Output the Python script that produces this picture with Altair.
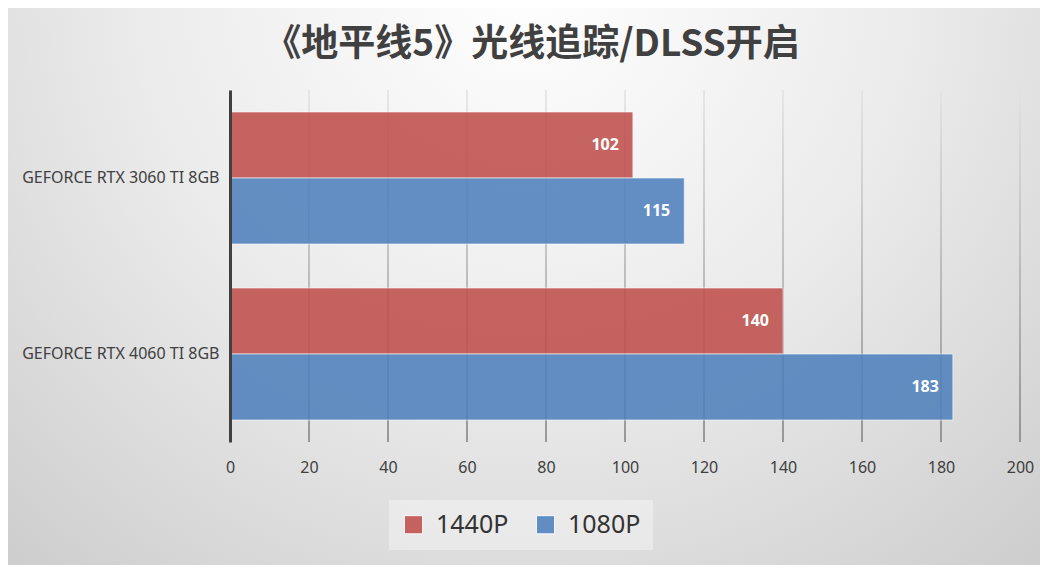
import altair as alt
import pandas as pd

gpus = ["GEFORCE RTX 3060 TI 8GB", "GEFORCE RTX 4060 TI 8GB"]
series = ["1440P", "1080P"]
fps_1440 = [102, 140]
fps_1080 = [115, 183]
x_ticks = [0, 20, 40, 60, 80, 100, 120, 140, 160, 180, 200]
colors = ["#C0504D", "#4F81BD"]
title = "《地平线5》光线追踪/DLSS开启"

rows = []
for g, a, b in zip(gpus, fps_1440, fps_1080):
    rows.append({"gpu": g, "res": series[0], "fps": a})
    rows.append({"gpu": g, "res": series[1], "fps": b})
df = pd.DataFrame(rows)
grid_df = pd.DataFrame({"v": x_ticks})

W, H = 790, 352
xscale = alt.Scale(domain=[0, 200], padding=0, nice=False)
xaxis = alt.Axis(title=None, values=x_ticks, grid=False, domain=False, ticks=False,
                 labelPadding=17, labelFontSize=16, labelFont="Noto Sans",
                 labelColor="#404040", labelFlush=False, labelBound=False,
                 labelOverlap=False, zindex=1)

bg = alt.Chart(alt.Data(values=[{"a": 1}])).mark_rect(
    fill={
        "gradient": "radial",
        "x1": 0.5, "y1": 0.2, "r1": 0,
        "x2": 0.5, "y2": 0.2, "r2": 0.85,
        "stops": [
            {"offset": 0, "color": "#ffffff"},
            {"offset": 0.45, "color": "#ebebeb"},
            {"offset": 1, "color": "#c6c6c6"},
        ],
    }
).encode(
    x=alt.value(-222), x2=alt.value(W + 20),
    y=alt.value(-82), y2=alt.value(H + 123),
)

grid = alt.Chart(grid_df).mark_bar(
    orient="vertical", width=1.5,
    fill={
        "gradient": "linear", "x1": 0, "y1": 0, "x2": 0, "y2": 1,
        "stops": [
            {"offset": 0, "color": "#e2e2e2"},
            {"offset": 1, "color": "#7e7e7e"},
        ],
    },
).encode(
    x=alt.X("v:Q", scale=xscale, axis=xaxis),
    y=alt.value(0), y2=alt.value(H),
)

y_enc = alt.Y("gpu:N", sort=gpus, scale=alt.Scale(paddingInner=0.25, paddingOuter=0.125),
              axis=alt.Axis(title=None, domain=True, domainColor="#404040", domainWidth=3,
                            ticks=False, labelPadding=11, labelFontSize=16, labelLimit=0,
                            labelFont="Noto Sans", labelColor="#404040", grid=False,
                            zindex=1))
yoff = alt.YOffset("res:N", sort=series, scale=alt.Scale(paddingInner=0, paddingOuter=0))

bars = alt.Chart(df).mark_bar(
    opacity=0.88, stroke="#ffffff", strokeWidth=1, strokeOpacity=0.6
).encode(
    x=alt.X("fps:Q", scale=xscale, axis=xaxis),
    y=y_enc,
    yOffset=yoff,
    color=alt.Color("res:N", sort=series, scale=alt.Scale(domain=series, range=colors),
                    legend=alt.Legend(title=None, orient="none", legendX=159, legendY=410,
                                      direction="horizontal", symbolType="square",
                                      symbolSize=330, symbolStrokeWidth=1,
                                      symbolStrokeColor="#ffffff", symbolOpacity=0.88,
                                      labelFontSize=25, labelFont="Noto Sans",
                                      labelColor="#333333", labelOffset=10,
                                      columnPadding=24, padding=12,
                                      fillColor="rgba(255,255,255,0.35)", zindex=1)),
)

labels = alt.Chart(df).mark_text(
    align="right", baseline="middle", dx=-14, color="white",
    fontSize=16, fontWeight="bold", font="Noto Sans"
).encode(
    x=alt.X("fps:Q", scale=xscale),
    y=alt.Y("gpu:N", sort=gpus),
    yOffset=yoff,
    text=alt.Text("fps:Q"),
)

chart = alt.layer(bg, grid, bars, labels).properties(
    width=W, height=H,
    padding={"left": 222, "top": 82, "right": 20, "bottom": 123},
    autosize=alt.AutoSizeParams(type="none"),
    title=alt.TitleParams(title, fontSize=37, font="Noto Sans CJK SC", fontWeight="bold",
                          color="#404040", anchor="middle", dx=-93, dy=56, offset=0,
                          zindex=1),
).configure_view(stroke=None).configure(background="#d4d4d4")

chart.save("out.html", embed_options={"renderer": "svg", "actions": False})
